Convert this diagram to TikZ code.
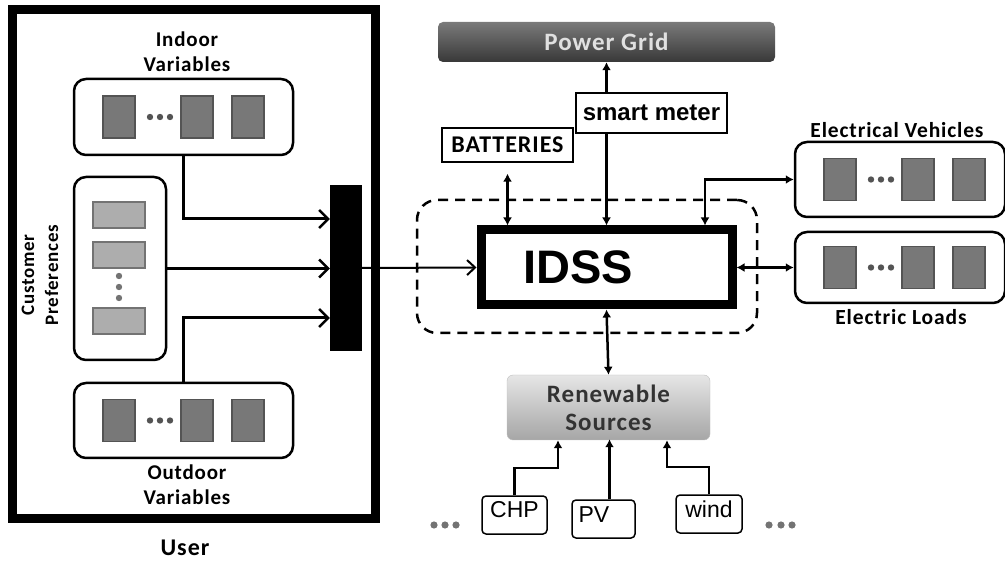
\documentclass[tikz,border=0pt]{standalone}
\usepackage{fontspec}
\setmainfont{Liberation Sans}
\newfontfamily\lblfont[LetterSpace=4]{Carlito}
\usepackage{tikz}
\usetikzlibrary{arrows.meta,positioning}
\definecolor{devfill}{gray}{0.47}
\definecolor{devline}{gray}{0.33}
\definecolor{preffill}{gray}{0.68}
\definecolor{prefline}{gray}{0.45}
\newcommand{\devrow}[2]{% left x, centre y of a device box
  \foreach \dx in {29,107,158} \draw[devline, line width=1.5pt, fill=devfill] (#1+\dx,#2-21) rectangle ++(32,42);
  \foreach \dx in {76,86,96} \fill[devline] (#1+\dx,#2) circle (3.2pt);}

\begin{document}
\begin{tikzpicture}[
  x=1pt, y=-1pt,
  font=\lblfont\bfseries\fontsize{21}{25}\selectfont,
  frame/.style={draw, line width=9pt, inner sep=0pt},
  rowbox/.style={draw, line width=2.5pt, rounded corners=12pt, minimum width=219pt, minimum height=#1, inner sep=0pt},
  tag/.style={draw, line width=1.3pt, fill=white, inner sep=0pt},
  src/.style={draw, line width=1.5pt, rounded corners=4pt, minimum height=38pt, text height=17pt, text depth=11pt, inner sep=0pt, font=\rmfamily\mdseries\fontsize{23}{23}\selectfont},
  lab/.style={align=center},
  barb/.style={-{Straight Barb[length=9pt, width=18pt, line width=2.5pt]}, line width=3pt},
  feed/.style={-{Straight Barb[length=8pt, width=15pt, line width=2pt]}, line width=2pt},
  dbl/.style={{Latex[length=8pt, width=9pt]}-{Latex[length=8pt, width=9pt]}, line width=2.5pt},
  upa/.style={-{Latex[length=8pt, width=9pt]}, line width=2.5pt},
]
\useasboundingbox (0,0) rectangle (1005,561);
% user side
\node[frame, minimum width=363pt, minimum height=508pt] (user) at (193.5,264) {};
\node[lab, font=\lblfont\bfseries\fontsize{24}{24}\selectfont] (userlbl) at (185,548) {User};
\node[rowbox=76pt] (indoor) at (183.5,117) {};
\node[lab] (indoorlbl) at (187,52) {Indoor\\Variables};
\node[rowbox=183pt, minimum width=92pt] (pref) at (120,268.5) {};
\node[lab, rotate=90, font=\lblfont\bfseries\fontsize{19}{24}\selectfont] (preflbl) at (40,275) {Customer\\Preferences};
\node[rowbox=75pt] (outdoor) at (183.5,420.5) {};
\node[lab] (outdoorlbl) at (187,485) {Outdoor\\Variables};
\node[fill, minimum width=32pt, minimum height=166pt, inner sep=0pt] (bar) at (346,268) {};
\devrow{74}{117}
\devrow{74}{420.5}
\foreach \ry in {202,242,308} \draw[prefline, line width=1.5pt, fill=preffill] (93,\ry) rectangle ++(52,26);
\foreach \dy in {276,287,298} \fill[prefline] (119,\dy) circle (3.2pt);
\draw[barb] (indoor.south) |- ([yshift=49pt]bar.west);
\draw[barb] (pref.east) -- (pref.east -| bar.west);
\draw[barb] (outdoor.north) |- ([yshift=-50pt]bar.west);
% IDSS
\node[draw, dash pattern=on 10pt off 7pt, line width=2.5pt, rounded corners=20pt, minimum width=340pt, minimum height=133pt] (zone) at (587,266.5) {};
\node[frame, minimum width=251pt, minimum height=75pt, text width=167pt, align=left, font=\rmfamily\bfseries\fontsize{47}{47}\selectfont] (idss) at (606.5,267.5) {IDSS};
\draw[feed] (bar.east) -- (idss.west);
% grid side
\node[minimum width=337pt, minimum height=40pt, rounded corners=5pt, top color=black!52, bottom color=black!78, text=white!88!black, font=\lblfont\bfseries\fontsize{25}{25}\selectfont] (grid) at (606.5,42) {Power Grid};
\draw[dbl] (idss.north) -- (grid.south);
\node[tag, minimum width=151pt, minimum height=40pt, font=\rmfamily\bfseries\fontsize{24}{24}\selectfont] (meter) at (651.5,113) {smart meter};
\node[tag, minimum width=131pt, minimum height=34pt, font=\lblfont\bfseries\fontsize{24}{24}\selectfont] (batt) at (507.5,145) {BATTERIES};
\draw[dbl] (idss.north -| batt.south) -- ([yshift=-11pt]batt.south);
% loads
\node[rowbox=75pt, minimum width=210pt] (ev) at (900,179.5) {};
\node[rowbox=71pt, minimum width=210pt] (load) at (900,267.5) {};
\node[lab, font=\lblfont\bfseries\fontsize{21.5}{25}\selectfont] (evlbl) at (897,130) {Electrical Vehicles};
\node[lab, font=\lblfont\bfseries\fontsize{21.5}{25}\selectfont] (loadlbl) at (901,317) {Electric Loads};
\devrow{795}{179.5}
\devrow{795}{267.5}
\draw[dbl] ([xshift=98.5pt]idss.north) |- (ev.west);
\draw[dbl] (idss.east) -- (load.west);
% renewables
\node[minimum width=203pt, minimum height=65pt, rounded corners=6pt, top color=black!10, bottom color=black!35, draw=black!25, text=black!80, align=center, font=\lblfont\bfseries\fontsize{25}{28}\selectfont] (ren) at (608.5,407.5) {Renewable\\Sources};
\draw[dbl] (idss.south) -- (ren.north);
\node[src, minimum width=65pt] (chp) at (514.5,515) {CHP};
\node[src, minimum width=63pt, text width=50pt, align=left] (pv) at (603.5,519) {PV};
\node[src, minimum width=66pt] (wind) at (709,514) {wind};
\draw[upa] (chp.north) -- ++(0,-27) -| ([xshift=-50.5pt]ren.south);
\draw[upa] ([xshift=6pt]pv.north) -- ++(0,-60);
\draw[upa] (wind.north) -- ++(0,-27) -| ([xshift=58.5pt]ren.south);
\foreach \cx in {434,445,456,769,781,792} \fill[black!55] (\cx,525) circle (3.6pt);
\end{tikzpicture}
\end{document}
